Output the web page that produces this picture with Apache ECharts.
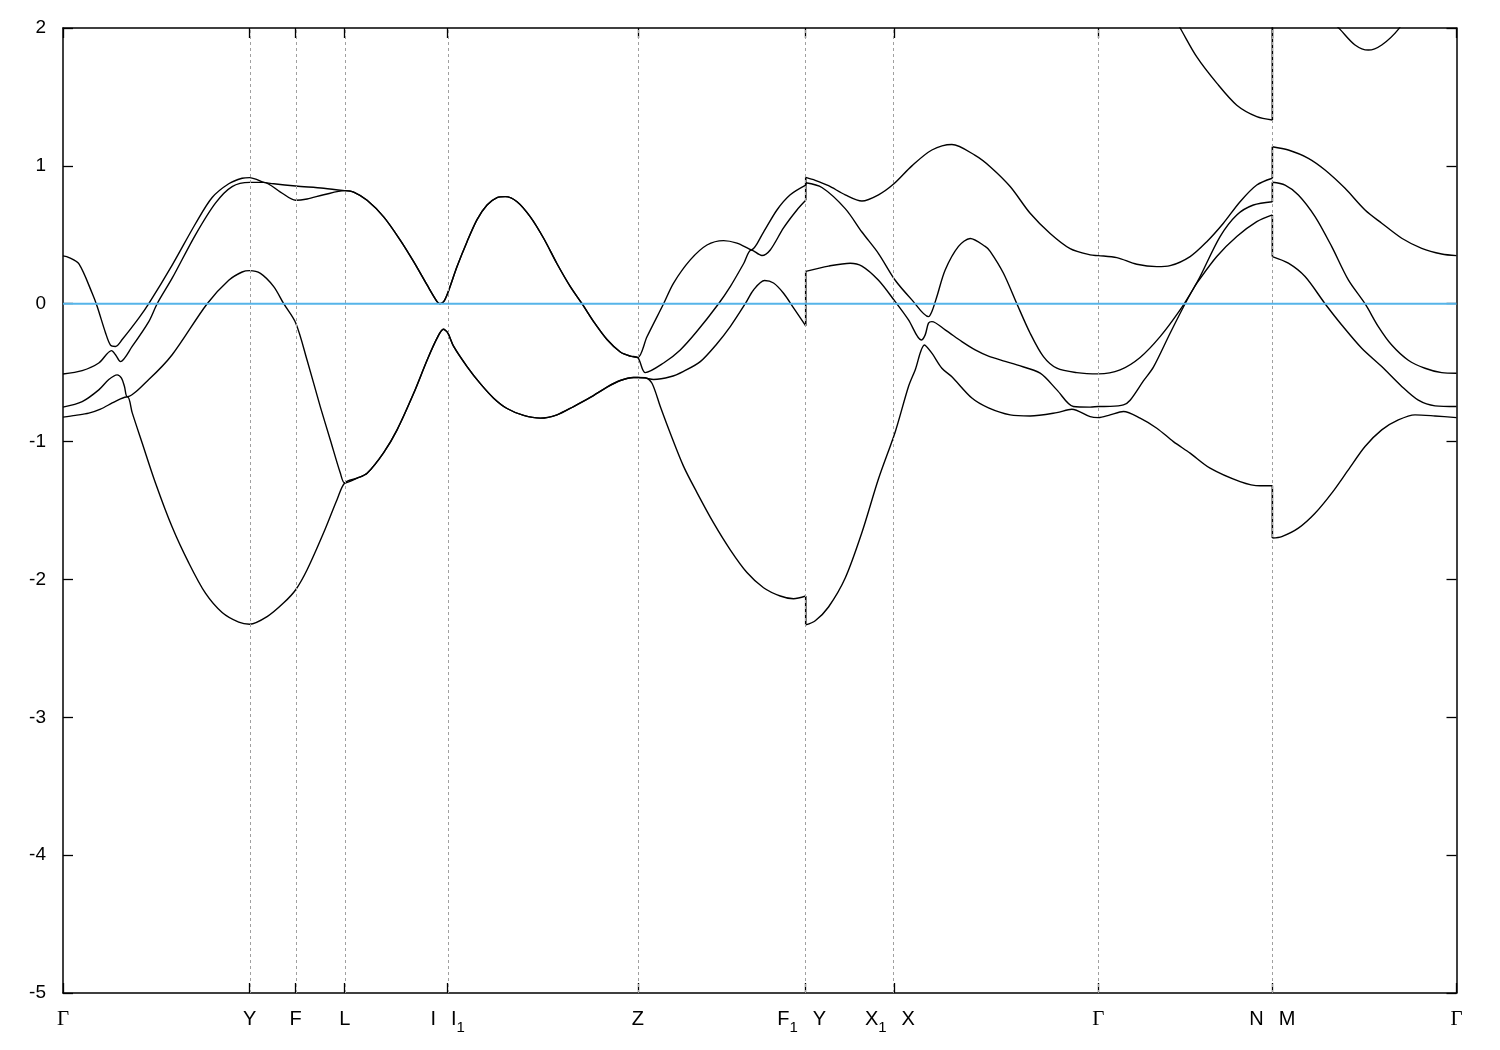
<!DOCTYPE html>
<html>
<head>
<meta charset="utf-8">
<script src="https://cdn.jsdelivr.net/npm/echarts@6/dist/echarts.min.js"></script>
<style>
  html, body { margin: 0; padding: 0; background: #fff; }
  #chart { width: 1500px; height: 1050px; }
</style>
</head>
<body>
<div id="chart"></div>
<script>
// High-symmetry points along the k-path (path distance, arbitrary units)
const kTicks = [0, 1.868, 2.328, 2.818, 3.848, 5.75, 7.43, 8.312, 10.358, 12.098, 13.94];
const kTickLabels = ['Γ', 'Y', 'F', 'L', 'I I_1', 'Z', 'F_1 Y', 'X_1 X', 'Γ', 'N M', 'Γ'];
const energyTicks = [-5, -4, -3, -2, -1, 0, 1, 2];
const fermiLevel = 0;

// Bands as [k, E] (E in eV), lowest to highest
const band1 = [
  [0,-0.823],[0.125,-0.81],[0.258,-0.794],[0.375,-0.765],[0.492,-0.72],[0.575,-0.69],[0.645,-0.675],
  [0.692,-0.79],[0.792,-1.01],[0.925,-1.30],[1.092,-1.62],[1.258,-1.88],[1.425,-2.10],[1.592,-2.24],
  [1.758,-2.31],[1.868,-2.325],[2.042,-2.27],[2.208,-2.17],[2.328,-2.075],[2.442,-1.93],[2.608,-1.66],
  [2.742,-1.42],[2.818,-1.30],[2.942,-1.265],[3.042,-1.23],[3.208,-1.08],[3.342,-0.915],[3.508,-0.65],
  [3.642,-0.41],[3.742,-0.25],[3.805,-0.185],[3.848,-0.21],[3.908,-0.31],[4.042,-0.456],[4.175,-0.58],
  [4.308,-0.685],[4.442,-0.76],[4.608,-0.81],[4.775,-0.83],[4.942,-0.806],[5.108,-0.746],[5.275,-0.68],
  [5.442,-0.605],[5.575,-0.557],[5.708,-0.535],[5.75,-0.535],[5.825,-0.536],[5.892,-0.577],[5.975,-0.746],
  [6.075,-0.94],[6.208,-1.18],[6.342,-1.37],[6.508,-1.59],[6.675,-1.785],[6.842,-1.95],[7.008,-2.06],
  [7.175,-2.12],[7.308,-2.14],[7.43,-2.12],[7.43,-2.33],[7.525,-2.30],[7.658,-2.2],[7.825,-1.99],
  [7.992,-1.66],[8.158,-1.27],[8.325,-0.93],[8.458,-0.60],[8.525,-0.48],[8.618,-0.299],[8.692,-0.359],
  [8.792,-0.468],[8.892,-0.53],[9.092,-0.684],[9.258,-0.755],[9.475,-0.806],[9.675,-0.814],[9.942,-0.79],
  [10.092,-0.765],[10.275,-0.819],[10.358,-0.826],[10.475,-0.806],[10.608,-0.782],[10.775,-0.83],
  [10.942,-0.903],[11.108,-1.0],[11.275,-1.084],[11.475,-1.193],[11.775,-1.29],[11.975,-1.321],
  [12.098,-1.321],[12.098,-1.70],[12.192,-1.689],[12.358,-1.628],[12.525,-1.52],[12.692,-1.374],
  [12.858,-1.205],[13.025,-1.036],[13.192,-0.915],[13.358,-0.843],[13.525,-0.806],[13.725,-0.814],[13.94,-0.826]
];
const band2 = [
  [0,-0.75],[0.192,-0.71],[0.358,-0.625],[0.458,-0.55],[0.542,-0.516],[0.585,-0.54],[0.615,-0.60],
  [0.645,-0.675],[0.858,-0.55],[1.092,-0.37],[1.442,0.0],[1.658,0.17],[1.792,0.23],[1.868,0.24],
  [1.975,0.22],[2.108,0.124],[2.208,0.0],[2.328,-0.14],[2.442,-0.41],[2.575,-0.75],[2.675,-0.99],
  [2.775,-1.23],[2.818,-1.30],[2.942,-1.265],[3.042,-1.23],[3.208,-1.08],[3.342,-0.915],[3.508,-0.65],
  [3.642,-0.41],[3.742,-0.25],[3.805,-0.185],[3.848,-0.21],[3.908,-0.31],[4.042,-0.456],[4.175,-0.58],
  [4.308,-0.685],[4.442,-0.76],[4.608,-0.81],[4.775,-0.83],[4.942,-0.806],[5.108,-0.746],[5.275,-0.68],
  [5.442,-0.605],[5.575,-0.557],[5.708,-0.535],[5.75,-0.535],[5.825,-0.54],[5.908,-0.55],[6.075,-0.53],
  [6.208,-0.49],[6.375,-0.42],[6.542,-0.29],[6.675,-0.166],[6.825,0.0],[6.908,0.10],[7.018,0.168],
  [7.108,0.15],[7.208,0.076],[7.308,-0.03],[7.43,-0.16],[7.43,0.235],[7.658,0.273],[7.875,0.294],
  [7.992,0.273],[8.158,0.17],[8.325,0.015],[8.458,-0.117],[8.585,-0.263],[8.625,-0.226],[8.658,-0.141],
  [8.692,-0.13],[8.825,-0.19],[8.992,-0.275],[9.125,-0.335],[9.258,-0.38],[9.425,-0.418],[9.542,-0.444],
  [9.775,-0.504],[9.942,-0.625],[10.108,-0.746],[10.275,-0.75],[10.358,-0.746],[10.475,-0.745],
  [10.608,-0.734],[10.675,-0.70],[10.808,-0.56],[10.908,-0.46],[11.075,-0.214],[11.225,0.0],[11.312,0.114],
  [11.342,0.149],[11.542,0.342],[11.742,0.487],[11.942,0.595],[12.098,0.644],[12.098,0.342],[12.258,0.294],
  [12.425,0.197],[12.625,0.0],[12.792,-0.154],[12.992,-0.323],[13.192,-0.456],[13.392,-0.60],[13.558,-0.70],
  [13.725,-0.741],[13.94,-0.746]
];
const band3 = [
  [0,-0.51],[0.192,-0.485],[0.358,-0.43],[0.485,-0.34],[0.525,-0.37],[0.575,-0.42],[0.692,-0.31],
  [0.858,-0.13],[0.942,0.0],[1.092,0.185],[1.325,0.5],[1.525,0.73],[1.692,0.85],[1.868,0.88],[2.008,0.88],
  [2.175,0.81],[2.328,0.75],[2.442,0.76],[2.608,0.79],[2.818,0.82],[2.908,0.81],[3.042,0.75],[3.208,0.63],
  [3.375,0.46],[3.508,0.305],[3.642,0.136],[3.742,0.015],[3.77,0.0],[3.808,0.015],[3.848,0.076],[3.942,0.27],
  [4.042,0.45],[4.142,0.61],[4.242,0.716],[4.342,0.77],[4.425,0.777],[4.542,0.74],[4.675,0.63],[4.808,0.475],
  [4.942,0.29],[5.075,0.124],[5.192,0.0],[5.308,-0.13],[5.442,-0.26],[5.575,-0.35],[5.675,-0.38],[5.75,-0.39],
  [5.825,-0.50],[6.008,-0.43],[6.175,-0.335],[6.342,-0.20],[6.558,0.0],[6.675,0.124],[6.808,0.29],[6.885,0.39],
  [6.992,0.35],[7.075,0.39],[7.208,0.55],[7.342,0.68],[7.43,0.75],[7.43,0.877],[7.592,0.843],[7.825,0.69],
  [7.992,0.52],[8.158,0.364],[8.325,0.17],[8.492,0.028],[8.658,-0.094],[8.692,-0.057],[8.742,0.052],
  [8.825,0.245],[8.958,0.416],[9.075,0.473],[9.225,0.416],[9.275,0.38],[9.408,0.221],[9.542,0.0],
  [9.675,-0.214],[9.808,-0.384],[9.942,-0.468],[10.142,-0.50],[10.358,-0.509],[10.575,-0.48],[10.775,-0.39],
  [10.975,-0.239],[11.175,-0.045],[11.312,0.114],[11.375,0.197],[11.575,0.487],[11.742,0.644],[11.908,0.716],
  [12.098,0.74],[12.098,0.881],[12.225,0.861],[12.358,0.789],[12.525,0.632],[12.692,0.414],[12.858,0.173],
  [13.025,0.0],[13.158,-0.166],[13.292,-0.30],[13.458,-0.41],[13.625,-0.468],[13.792,-0.50],[13.94,-0.504]
];
const band4 = [
  [0,0.347],[0.06,0.335],[0.158,0.29],[0.292,0.076],[0.342,-0.02],[0.425,-0.21],[0.475,-0.30],[0.525,-0.31],
  [0.592,-0.26],[0.758,-0.105],[0.858,0.0],[1.092,0.28],[1.325,0.58],[1.492,0.77],[1.658,0.87],[1.792,0.91],
  [1.868,0.915],[1.942,0.90],[2.008,0.88],[2.108,0.87],[2.328,0.854],[2.608,0.838],[2.818,0.82],[2.908,0.81],
  [3.042,0.75],[3.208,0.63],[3.375,0.46],[3.508,0.305],[3.642,0.136],[3.742,0.015],[3.77,0.0],[3.808,0.015],
  [3.848,0.076],[3.942,0.27],[4.042,0.45],[4.142,0.61],[4.242,0.716],[4.342,0.77],[4.425,0.777],[4.542,0.74],
  [4.675,0.63],[4.808,0.475],[4.942,0.29],[5.075,0.124],[5.192,0.0],[5.308,-0.13],[5.442,-0.26],[5.575,-0.35],
  [5.675,-0.38],[5.75,-0.39],[5.842,-0.24],[6.008,0.0],[6.108,0.15],[6.275,0.318],[6.442,0.426],[6.608,0.458],
  [6.742,0.44],[6.858,0.40],[6.885,0.39],[7.008,0.52],[7.142,0.68],[7.275,0.79],[7.43,0.86],[7.43,0.916],
  [7.525,0.895],[7.658,0.856],[7.825,0.79],[7.992,0.745],[8.158,0.79],[8.312,0.87],[8.492,1.0],[8.692,1.115],
  [8.892,1.155],[9.125,1.076],[9.275,0.994],[9.475,0.85],[9.675,0.656],[9.875,0.51],[10.075,0.40],
  [10.275,0.354],[10.358,0.349],[10.542,0.334],[10.742,0.286],[10.942,0.269],[11.075,0.276],[11.275,0.342],
  [11.442,0.45],[11.608,0.584],[11.775,0.74],[11.942,0.861],[12.098,0.91],[12.098,1.139],[12.258,1.115],
  [12.458,1.055],[12.625,0.97],[12.825,0.837],[13.025,0.68],[13.192,0.584],[13.392,0.475],[13.592,0.402],
  [13.792,0.361],[13.94,0.349]
];
const band5 = [
  [10.358,2.5],[10.775,2.3],[11.075,2.12],[11.175,2.0],[11.342,1.79],[11.542,1.6],[11.742,1.44],
  [11.942,1.357],[12.098,1.333],[12.098,2.6],[12.4,2.25],[12.625,2.1],[12.775,1.99],[12.925,1.877],
  [13.058,1.84],[13.192,1.877],[13.358,1.99],[13.55,2.2],[13.94,2.5]
];
const bands = [band1, band2, band3, band4, band5];

function richLabel(str) {
  const parts = str.split(' ');
  let out = parts.map(function (part) {
    if (part === 'Γ') return '{g|Γ}';
    const i = part.indexOf('_');
    if (i >= 0) return '{n|' + part.slice(0, i) + '}{s|' + part.slice(i + 1) + '}';
    return '{n|' + part + '}';
  }).join('{w| }');
  // gnuplot-like centring: a leading subscripted part pushes the label left
  if (parts.length > 1 && parts[0].indexOf('_') >= 0) out += '{t| }';
  return out;
}
function labelFor(v) {
  for (let i = 0; i < kTicks.length; i++) {
    if (Math.abs(kTicks[i] - v) < 1e-6) return richLabel(kTickLabels[i]);
  }
  return '';
}

// split each band at path discontinuities (repeated k): smooth pieces + straight jumps
function splitBand(b) {
  const pieces = [], jumps = [];
  let cur = [b[0]];
  for (let i = 1; i < b.length; i++) {
    if (b[i][0] === b[i - 1][0]) {
      pieces.push(cur);
      jumps.push([b[i - 1], b[i]]);
      cur = [b[i]];
    } else {
      cur.push(b[i]);
    }
  }
  pieces.push(cur);
  return { pieces: pieces, jumps: jumps };
}

const kMin = kTicks[0], kMax = kTicks[kTicks.length - 1];
const axisColor = '#000';
const chart = echarts.init(document.getElementById('chart'), null, { renderer: 'canvas' });

const bandSeries = [];
bands.forEach(function (b, idx) {
  const s = splitBand(b);
  s.pieces.forEach(function (p) {
    bandSeries.push({
      type: 'line', name: 'band' + (idx + 1), data: p, showSymbol: false, symbol: 'none',
      smooth: 0.3, clip: true, silent: true, z: 3,
      lineStyle: { color: '#000', width: 1.4, join: 'round' }
    });
  });
  s.jumps.forEach(function (j) {
    bandSeries.push({
      type: 'line', name: 'band' + (idx + 1), data: j, showSymbol: false, symbol: 'none',
      smooth: false, clip: true, silent: true, z: 4,
      lineStyle: { color: '#000', width: 1.6 }
    });
  });
});

const option = {
  animation: false,
  backgroundColor: '#fff',
  grid: { left: 63, right: 43.5, top: 28, bottom: 57, containLabel: false },
  xAxis: [
    {
      type: 'value', min: kMin, max: kMax, position: 'bottom',
      axisLine: { show: true, onZero: false, lineStyle: { color: axisColor, width: 1.5 } },
      axisTick: { show: true, inside: true, length: 10, customValues: kTicks, lineStyle: { color: axisColor, width: 1.3 } },
      axisLabel: {
        show: true, customValues: kTicks, margin: 16, color: '#000',
        formatter: labelFor,
        rich: {
          n: { fontSize: 20, fontFamily: 'Liberation Sans', color: '#000', verticalAlign: 'top', lineHeight: 23 },
          s: { fontSize: 15, fontFamily: 'Liberation Sans', color: '#000', verticalAlign: 'top', lineHeight: 23, padding: [11, 0, 0, 0] },
          g: { fontSize: 21, fontFamily: 'Liberation Serif', color: '#000', verticalAlign: 'top', lineHeight: 23 },
          w: { width: 15, fontSize: 20, verticalAlign: 'top', lineHeight: 23 },
          t: { width: 8, fontSize: 20, verticalAlign: 'top', lineHeight: 23 }
        }
      },
      splitLine: { show: false }
    },
    {
      type: 'value', min: kMin, max: kMax, position: 'top',
      axisLine: { show: true, onZero: false, lineStyle: { color: axisColor, width: 1.5 } },
      axisTick: { show: true, inside: true, length: 10, customValues: kTicks, lineStyle: { color: axisColor, width: 1.3 } },
      axisLabel: { show: false },
      splitLine: { show: false }
    }
  ],
  yAxis: [
    {
      type: 'value', min: energyTicks[0], max: energyTicks[energyTicks.length - 1], interval: 1, position: 'left',
      axisLine: { show: true, onZero: false, lineStyle: { color: axisColor, width: 1.5 } },
      axisTick: { show: true, inside: true, length: 10, lineStyle: { color: axisColor, width: 1.3 } },
      axisLabel: { show: true, margin: 17, color: '#000', fontSize: 19, fontFamily: 'Liberation Sans' },
      splitLine: { show: false }
    },
    {
      type: 'value', min: energyTicks[0], max: energyTicks[energyTicks.length - 1], interval: 1, position: 'right',
      axisLine: { show: true, onZero: false, lineStyle: { color: axisColor, width: 1.5 } },
      axisTick: { show: true, inside: true, length: 10, lineStyle: { color: axisColor, width: 1.3 } },
      axisLabel: { show: false },
      splitLine: { show: false }
    }
  ],
  series: [
    {
      type: 'line', name: 'guides', data: [], silent: true, z: 1,
      markLine: {
        silent: true, symbol: ['none', 'none'], animation: false,
        label: { show: false },
        lineStyle: { color: '#a0a0a0', width: 1, type: [3, 3] },
        data: kTicks.slice(1, -1).map(function (v) { return { xAxis: v }; })
      }
    }
  ].concat(bandSeries).concat([
    {
      type: 'line', name: 'Fermi', data: [[kMin, fermiLevel], [kMax, fermiLevel]],
      showSymbol: false, symbol: 'none', silent: true, z: 5,
      lineStyle: { color: '#56B4E9', width: 2 }
    }
  ])
};
chart.setOption(option);
</script>
</body>
</html>
